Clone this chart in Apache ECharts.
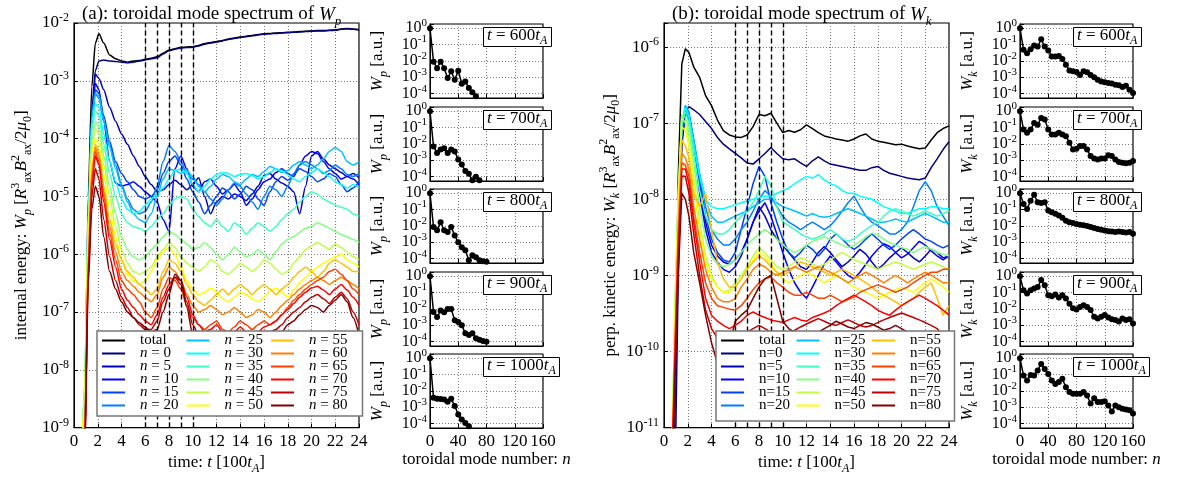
<!DOCTYPE html>
<html><head><meta charset="utf-8">
<script src="https://cdn.jsdelivr.net/npm/echarts@6/dist/echarts.min.js"></script>
<style>html,body{margin:0;padding:0;background:#fff}#c{width:1185px;height:480px}</style>
</head><body><div id="c"></div>
<script>
// ---------------- DATA ----------------
const TIME = [0.6,0.9,1.2,1.5,1.8,2.1,2.5,3,3.5,4, 4.5,5,5.5,6,6.5,7,7.5,8,8.5,9, 9.5,10,10.5,11,11.5,12,12.5,13,13.5,14, 14.5,15,15.5,16,16.5,17,17.5,18,18.5,19, 19.5,20,20.5,21,21.5,22,22.5,23,23.5,24];
const MODE_N = [0,5,10,15,20,25,30,35,40,45,50,55,60,65,70,75,80];
const SNAP_TIMES = [6,7,8,9,10];
const SNAP_LABELS = ['600','700','800','900','1000'];
const X_TICKS_MAIN = [0,24,2];
const X_TICKS_SPEC = [0,160,40];

const WP_TOTAL = [1e-10,1e-9,1e-5,8e-4,4.5e-3,6.5e-3,4.5e-3,2.8e-3,2.4e-3,2.2e-3, 2.1e-3,2.2e-3,2.25e-3,2.35e-3,2.45e-3,2.6e-3,3e-3,3.4e-3,3.6e-3,3.8e-3, 3.85e-3,3.9e-3,4.1e-3,4.4e-3,4.6e-3,4.8e-3,5e-3,5.3e-3,5.5e-3,5.7e-3, 5.9e-3,6.1e-3,6.3e-3,6.5e-3,6.6e-3,6.7e-3,6.8e-3,6.9e-3,7e-3,7.1e-3, 7.2e-3,7.3e-3,7.4e-3,7.4e-3,7.5e-3,7.6e-3,7.9e-3,8e-3,7.9e-3,7.7e-3];
const WP_N0 = [1e-10,3e-10,1e-6,3e-4,1.5e-3,2.2e-3,2.3e-3,2.2e-3,2.15e-3,2.1e-3, 2.05e-3,2.1e-3,2.2e-3,2.3e-3,2.4e-3,2.5e-3,2.9e-3,3.3e-3,3.5e-3,3.7e-3, 3.75e-3,3.8e-3,4e-3,4.3e-3,4.5e-3,4.7e-3,4.9e-3,5.2e-3,5.4e-3,5.6e-3, 5.8e-3,6e-3,6.2e-3,6.4e-3,6.5e-3,6.6e-3,6.7e-3,6.8e-3,6.9e-3,7e-3, 7.1e-3,7.2e-3,7.3e-3,7.3e-3,7.4e-3,7.5e-3,7.8e-3,7.9e-3,7.8e-3,7.6e-3];
const WP_N5 = [1e-10,2e-9,2e-6,2e-4,1.3e-3,1.1e-3,7e-4,3.5e-4,2e-4,1.2e-4, 8e-5,5e-5,3.3e-5,2.2e-5,1.6e-5,1.2e-5,1.3e-5,1.6e-5,1.9e-5,1.6e-5, 1.3e-5,1.6e-5,2.1e-5,1e-5,5e-6,8e-6,1e-5,9e-6,1.1e-5,1e-5, 8.5e-6,1.1e-5,1.5e-5,2.3e-5,2.5e-5,2e-5,1.7e-5,1.5e-5,1.2e-5,5e-6, 1.5e-5,5e-5,6e-5,4.5e-5,3.5e-5,3e-5,2.6e-5,2.2e-5,2.5e-5,2.1e-5];
const WP_N10 = [1e-10,2e-9,2e-6,2e-4,9e-4,7e-4,2e-4,4e-5,1.7e-5,1.5e-5, 1.6e-5,1.8e-5,1.5e-5,1.2e-5,1e-5,8e-6,4e-6,2.5e-6,3e-5,5e-5, 3e-5,1.5e-5,1.2e-5,1.8e-5,2e-5,1.5e-5,1.1e-5,1.3e-5,1.6e-5,1.2e-5, 7e-6,9e-6,1.3e-5,1.8e-5,2e-5,2.6e-5,3e-5,2.5e-5,2.2e-5,3.5e-5, 5e-5,6e-5,5.5e-5,4e-5,3e-5,2.5e-5,2e-5,2.2e-5,2e-5,1.6e-5];
const WP_N15 = [1e-10,2e-9,2e-6,2e-4,7e-4,6e-4,2.5e-4,9e-5,4e-5,2.5e-5, 1.8e-5,1.3e-5,1e-5,9e-6,1e-5,1.3e-5,2.5e-5,4e-5,5e-5,3.5e-5, 2e-5,1.2e-5,8e-6,5e-6,7e-6,1e-5,1.4e-5,1.2e-5,9e-6,1.1e-5, 1.5e-5,1.3e-5,9e-6,7e-6,1.2e-5,1.8e-5,2.2e-5,1.9e-5,2.4e-5,3e-5, 2.7e-5,2.2e-5,1.8e-5,2e-5,2.5e-5,2.2e-5,1.6e-5,1.2e-5,1.4e-5,1.8e-5];
const WP_N20 = [1e-10,3e-9,3e-6,2e-4,6e-4,5e-4,2e-4,8e-5,3.5e-5,1.6e-5, 9e-6,6e-6,5e-6,5.5e-6,8e-6,1.5e-5,4e-5,7.5e-5,6e-5,4e-5, 2.5e-5,2e-5,1.6e-5,1.2e-5,9e-6,7e-6,9e-6,1.3e-5,1.7e-5,1.5e-5, 1.1e-5,8e-6,6e-6,1e-5,1.5e-5,1.3e-5,1e-5,1.5e-5,2.5e-5,3.5e-5, 4e-5,3.5e-5,3e-5,2.5e-5,2.8e-5,3.5e-5,3e-5,2.4e-5,2.2e-5,2.5e-5];
const WP_N25 = [1e-10,4e-9,4e-6,2.5e-4,6e-4,5.5e-4,2e-4,7e-5,3e-5,1.5e-5, 8e-6,5e-6,4e-6,3.5e-6,5e-6,1e-5,2e-5,3e-5,2.8e-5,2.5e-5, 2.8e-5,2.2e-5,1.5e-5,1.2e-5,1.5e-5,2e-5,2.4e-5,2.2e-5,1.8e-5,1.6e-5, 2e-5,2.4e-5,2.2e-5,2.7e-5,3.3e-5,3e-5,2.6e-5,2.8e-5,3.5e-5,4e-5, 3.5e-5,3e-5,3.5e-5,4.5e-5,6e-5,7e-5,6e-5,4e-5,3.5e-5,4e-5];
const WP_N30 = [1e-10,5e-9,5e-6,2e-4,4e-4,3.5e-4,1.2e-4,4e-5,1.8e-5,9e-6, 6e-6,5e-6,5.5e-6,7e-6,9e-6,1.1e-5,1.4e-5,2e-5,2.8e-5,3e-5, 2.5e-5,1.6e-5,1.2e-5,1.5e-5,2e-5,2.4e-5,2.6e-5,2.5e-5,2.2e-5,2.4e-5, 2.5e-5,2.3e-5,2e-5,2.2e-5,2.6e-5,3e-5,2.8e-5,2.4e-5,2e-5,1.8e-5, 2.2e-5,2.6e-5,3e-5,2.6e-5,2.2e-5,1.8e-5,1.6e-5,1.4e-5,1.6e-5,1.4e-5];
const WP_N35 = [1e-10,6e-9,5e-6,1.5e-4,3e-4,2.5e-4,8e-5,2.5e-5,1e-5,5e-6, 3.5e-6,3e-6,2.8e-6,2.5e-6,3e-6,4e-6,5e-6,7e-6,9e-6,1e-5, 9e-6,6e-6,4.5e-6,3.5e-6,3e-6,4e-6,3e-6,2.5e-6,3.5e-6,3e-6, 2.2e-6,2.8e-6,3.5e-6,3e-6,2.5e-6,3e-6,4e-6,5e-6,6e-6,8e-6, 1e-5,1.2e-5,1.1e-5,9e-6,8e-6,7e-6,6.5e-6,6e-6,5e-6,4.5e-6];
const WP_N40 = [1e-10,6e-9,4e-6,1e-4,2e-4,1.6e-4,5e-5,1.5e-5,5e-6,2e-6, 1.2e-6,9e-7,8e-7,9e-7,1.2e-6,1.5e-6,2e-6,2.5e-6,2.2e-6,1.8e-6, 1.5e-6,1.2e-6,1.3e-6,1.6e-6,1.3e-6,1e-6,8e-7,1e-6,1.3e-6,1.1e-6, 9e-7,1e-6,1.2e-6,1e-6,8e-7,1.1e-6,1.5e-6,1.8e-6,2e-6,2.4e-6, 2.8e-6,3e-6,3.5e-6,3.2e-6,2.8e-6,2.5e-6,2.2e-6,2e-6,1.8e-6,1.6e-6];
const WP_N45 = [1e-10,5e-9,3e-6,8e-5,1.5e-4,1.2e-4,3.5e-5,1e-5,3e-6,1.2e-6, 7e-7,5e-7,4.5e-7,5e-7,6e-7,9e-7,1.2e-6,1.6e-6,1.3e-6,9e-7, 7e-7,6e-7,5e-7,6e-7,8e-7,7e-7,5e-7,4.5e-7,5.5e-7,7e-7, 6e-7,5e-7,6e-7,8e-7,7e-7,5.5e-7,4.5e-7,5e-7,7e-7,9e-7, 1.2e-6,1.4e-6,1.6e-6,1.4e-6,1.2e-6,1.5e-6,1.3e-6,1.1e-6,9e-7,8e-7];
const WP_N50 = [1e-10,4e-9,2e-6,6e-5,1e-4,8e-5,2.5e-5,6e-6,2e-6,8e-7, 4.5e-7,3.5e-7,3e-7,3.5e-7,5e-7,8e-7,1.1e-6,1.3e-6,1e-6,6e-7, 3.5e-7,2.5e-7,2e-7,2.2e-7,2.6e-7,2.2e-7,1.7e-7,1.5e-7,1.8e-7,2.2e-7, 2e-7,1.7e-7,1.5e-7,1.8e-7,2.3e-7,2.6e-7,2.2e-7,1.8e-7,2.4e-7,3.2e-7, 4e-7,5e-7,6e-7,7e-7,8e-7,9e-7,1e-6,8e-7,7e-7,6e-7];
const WP_N55 = [1e-10,1e-9,1e-6,3e-5,8e-5,6e-5,1.5e-5,4e-6,1.5e-6,8e-7, 5e-7,4e-7,3e-7,2.5e-7,2e-7,2.5e-7,5e-7,8e-7,7e-7,5e-7, 3e-7,2e-7,1.5e-7,1.3e-7,1.6e-7,2e-7,2.5e-7,2e-7,2.5e-7,3e-7, 2.5e-7,2e-7,2.5e-7,3e-7,2.5e-7,2e-7,2.5e-7,3e-7,4e-7,5e-7, 6e-7,5e-7,4e-7,5e-7,7e-7,8e-7,7e-7,6e-7,5e-7,5e-7];
const WP_N60 = [1e-10,8e-10,8e-7,2.5e-5,7e-5,5e-5,1.2e-5,3e-6,1.1e-6,5e-7, 3.5e-7,2.8e-7,2.2e-7,1.8e-7,1.5e-7,2e-7,4e-7,6e-7,5e-7,3.5e-7, 2e-7,1.3e-7,1e-7,1.1e-7,1.3e-7,1.1e-7,9e-8,1e-7,1.2e-7,1e-7, 8e-8,9e-8,1.1e-7,1e-7,8e-8,1e-7,1.3e-7,1.6e-7,2e-7,2.5e-7, 3e-7,3.5e-7,4e-7,3.5e-7,3e-7,3.5e-7,4e-7,3.5e-7,3e-7,2.5e-7];
const WP_N65 = [1e-10,6e-10,6e-7,2e-5,6e-5,4e-5,1e-5,2.3e-6,8e-7,3.5e-7, 2.5e-7,2e-7,1.5e-7,1e-7,8e-8,1.2e-7,2.5e-7,4e-7,3.5e-7,2.5e-7, 1.3e-7,8e-8,6e-8,5e-8,6e-8,7e-8,5e-8,4.5e-8,5.5e-8,7e-8, 6e-8,5e-8,6e-8,7e-8,6e-8,7e-8,9e-8,1.2e-7,1.6e-7,2e-7, 2.5e-7,3e-7,3.5e-7,4e-7,5e-7,5.5e-7,4.5e-7,3.5e-7,2.5e-7,2e-7];
const WP_N70 = [1e-10,5e-10,5e-7,1.5e-5,5e-5,3.5e-5,8e-6,1.8e-6,6e-7,2.5e-7, 1.6e-7,1.2e-7,9e-8,7e-8,6e-8,9e-8,1.8e-7,3e-7,4e-7,3.5e-7, 1.8e-7,9e-8,6e-8,4.5e-8,5e-8,6e-8,4.5e-8,3.5e-8,4.5e-8,5.5e-8, 4.5e-8,3.5e-8,4.5e-8,5.5e-8,6e-8,7e-8,9e-8,1.1e-7,1.4e-7,1.8e-7, 2.2e-7,2.6e-7,2.8e-7,2.4e-7,2e-7,2.5e-7,3e-7,2.4e-7,1.8e-7,1.3e-7];
const WP_N75 = [1e-10,4e-10,4e-7,1e-5,3e-5,2e-5,4e-6,9e-7,3.5e-7,1.8e-7, 1.2e-7,8e-8,6e-8,5e-8,5e-8,7e-8,1.5e-7,2.5e-7,4e-7,3e-7, 1.5e-7,6e-8,4e-8,3e-8,3.5e-8,4e-8,3e-8,2.5e-8,3e-8,4e-8, 3e-8,2.5e-8,3e-8,4e-8,4.5e-8,5e-8,6e-8,8e-8,1e-7,1.2e-7, 1.5e-7,1.8e-7,2e-7,1.7e-7,1.4e-7,1.8e-7,2.2e-7,1.7e-7,1e-7,6e-8];
const WP_N80 = [1e-10,3e-10,3e-7,6e-6,1.5e-5,1e-5,2e-6,5e-7,2.5e-7,1.5e-7, 1e-7,8e-8,6.5e-8,5.5e-8,4.5e-8,5e-8,1e-7,2e-7,4.5e-7,3.5e-7, 1.2e-7,4e-8,2e-8,1.5e-8,1.8e-8,2.2e-8,1.8e-8,1.5e-8,2e-8,2.5e-8, 2e-8,1.6e-8,2e-8,2.5e-8,3e-8,3.5e-8,4.5e-8,6e-8,7e-8,9e-8, 1.1e-7,1.3e-7,1.2e-7,1e-7,1.3e-7,1.6e-7,2e-7,1.5e-7,8e-8,4e-8];

const WK_TOTAL = [1e-12,1e-11,2e-8,6e-7,9.5e-7,8.5e-7,5.5e-7,4e-7,2.3e-7,1.7e-7, 1.1e-7,8e-8,7e-8,6.6e-8,6.5e-8,7e-8,9e-8,1.3e-7,1.25e-7,1.35e-7, 1e-7,7.5e-8,8e-8,7.6e-8,8.2e-8,9.5e-8,8.5e-8,7.5e-8,6.8e-8,6.5e-8, 6.2e-8,6e-8,5.8e-8,6.2e-8,6.8e-8,7.2e-8,6.2e-8,5.8e-8,5.6e-8,5.4e-8, 5.2e-8,5.3e-8,5e-8,4.8e-8,4.6e-8,4.7e-8,6e-8,7.5e-8,8.5e-8,9.2e-8];
const WK_N0 = [1e-12,1e-12,1e-9,5e-8,1.4e-7,1.65e-7,1.5e-7,1.3e-7,1.05e-7,8.5e-8, 6.5e-8,5.3e-8,4.6e-8,4e-8,3.5e-8,3e-8,2.9e-8,3.4e-8,4e-8,4.8e-8, 4e-8,3.4e-8,3.3e-8,3.4e-8,3e-8,2.7e-8,3.2e-8,3.6e-8,3.2e-8,2.9e-8, 2.8e-8,2.7e-8,2.6e-8,2.5e-8,2.4e-8,2.4e-8,2.6e-8,2.7e-8,2.4e-8,2.2e-8, 2.1e-8,2e-8,1.9e-8,1.85e-8,1.8e-8,1.9e-8,2.6e-8,3.4e-8,4.5e-8,5.7e-8];
const WK_N5 = [1e-12,3e-11,3e-9,6e-8,1.4e-7,1.1e-7,5e-8,1.5e-8,5e-9,2.5e-9, 1.8e-9,1.5e-9,1.4e-9,1.6e-9,2e-9,3e-9,5e-9,8e-9,6e-9,4e-9, 3e-9,2.5e-9,2e-9,1.6e-9,1.3e-9,1.2e-9,1.5e-9,2e-9,2.4e-9,2e-9, 1.6e-9,1.3e-9,1.5e-9,1.8e-9,2.2e-9,1.9e-9,1.5e-9,1.2e-9,1.4e-9,1.7e-9, 2e-9,2.3e-9,2e-9,1.7e-9,1.5e-9,1.8e-9,2.2e-9,2e-9,1.7e-9,1.8e-9];
const WK_N10 = [1e-12,3e-11,3e-9,6e-8,1.5e-7,1.2e-7,5e-8,1.2e-8,4e-9,2e-9, 1.5e-9,1.2e-9,1.1e-9,1.3e-9,1.8e-9,3e-9,5e-9,7e-9,9e-9,6e-9, 3.5e-9,2e-9,1.2e-9,8e-10,6e-10,5e-10,7e-10,1e-9,1.4e-9,1.8e-9, 1.5e-9,1.2e-9,1e-9,9e-10,1.1e-9,1.4e-9,1.8e-9,2.2e-9,2.6e-9,2.4e-9, 2e-9,1.7e-9,1.9e-9,2.3e-9,2.8e-9,2.5e-9,2.1e-9,1.8e-9,1.6e-9,1.8e-9];
const WK_N15 = [1e-12,4e-11,3e-9,7e-8,1.6e-7,1.3e-7,6e-8,1.8e-8,6e-9,3e-9, 2e-9,1.6e-9,1.5e-9,2e-9,4e-9,8e-9,1.6e-8,2.7e-8,2e-8,9e-9, 5e-9,3e-9,2e-9,1.7e-9,2e-9,2.5e-9,2.2e-9,1.8e-9,2.2e-9,3e-9, 3.5e-9,3e-9,2.5e-9,2.2e-9,2.5e-9,3e-9,3.5e-9,3e-9,2.5e-9,2.2e-9, 2.5e-9,3e-9,3.5e-9,4e-9,3.5e-9,3e-9,2.8e-9,2.5e-9,2.3e-9,2.5e-9];
const WK_N20 = [1e-12,5e-11,5e-9,8e-8,1.7e-7,1.4e-7,6e-8,2e-8,8e-9,4e-9, 3e-9,2.5e-9,2.5e-9,3e-9,4e-9,5e-9,7e-9,1e-8,1.3e-8,1.1e-8, 8e-9,6e-9,5e-9,4.5e-9,4e-9,4.5e-9,5e-9,4.5e-9,4e-9,4.5e-9, 5.5e-9,7e-9,9e-9,1.1e-8,8e-9,6e-9,5e-9,4.5e-9,4e-9,3.5e-9, 3.5e-9,4e-9,5e-9,8e-9,1.3e-8,1.7e-8,1.3e-8,8e-9,6e-9,4.5e-9];
const WK_N25 = [1e-12,5e-11,6e-9,9e-8,1.7e-7,1.3e-7,6e-8,2.2e-8,1e-8,6e-9, 5e-9,5e-9,5.5e-9,6e-9,6.5e-9,7e-9,8e-9,9e-9,1e-8,1e-8, 9e-9,8e-9,7.5e-9,7e-9,6.5e-9,6e-9,6.5e-9,6e-9,5.8e-9,6e-9, 6.5e-9,7e-9,7.5e-9,7e-9,6.5e-9,6e-9,5.5e-9,5e-9,5e-9,5.2e-9, 5.5e-9,5.2e-9,5e-9,5.5e-9,6e-9,6.5e-9,6e-9,5.5e-9,5e-9,5e-9];
const WK_N30 = [1e-12,8e-11,8e-9,1e-7,1.6e-7,1.2e-7,5e-8,2e-8,1e-8,8e-9, 7.5e-9,7.5e-9,8e-9,8.5e-9,9e-9,9.5e-9,1e-8,1.05e-8,1.1e-8,1.1e-8, 1.2e-8,1.3e-8,1.4e-8,1.6e-8,1.8e-8,2e-8,1.9e-8,2.1e-8,1.8e-8,1.6e-8, 1.5e-8,1.3e-8,1.2e-8,1.2e-8,1.1e-8,1.05e-8,1e-8,9e-9,8e-9,7.5e-9, 7e-9,6.5e-9,6.5e-9,7e-9,7.5e-9,7.5e-9,8e-9,8e-9,7.5e-9,7.5e-9];
const WK_N35 = [1e-12,2e-10,1e-8,1.2e-7,1.4e-7,1e-7,4e-8,1.3e-8,6e-9,4e-9, 3.5e-9,3.5e-9,4e-9,5e-9,6e-9,7e-9,9e-9,1.3e-8,2e-8,1.5e-8, 8e-9,5e-9,4.5e-9,4e-9,3.5e-9,3.2e-9,3e-9,3.2e-9,3.5e-9,4e-9, 3.5e-9,3e-9,2.8e-9,3e-9,3.5e-9,4e-9,4.5e-9,5e-9,6e-9,7e-9, 7.5e-9,7e-9,6.5e-9,6e-9,6.5e-9,7e-9,6.5e-9,6e-9,6.5e-9,7e-9];
const WK_N40 = [1e-12,3e-10,1.2e-8,1.3e-7,1.2e-7,8e-8,3e-8,8e-9,3e-9,1.8e-9, 1.4e-9,1.3e-9,1.4e-9,1.6e-9,2e-9,2.5e-9,3e-9,3.5e-9,4e-9,3.5e-9, 3e-9,2.5e-9,2.2e-9,2e-9,2.2e-9,2.5e-9,2.8e-9,3e-9,3.2e-9,3e-9, 2.7e-9,2.5e-9,2.3e-9,2.5e-9,2.8e-9,3.2e-9,3.6e-9,3.4e-9,3e-9,2.7e-9, 2.5e-9,2.3e-9,2.2e-9,2e-9,2.2e-9,2.4e-9,2.2e-9,2e-9,1.9e-9,1.8e-9];
const WK_N45 = [1e-12,3e-10,1.2e-8,1.2e-7,1e-7,6e-8,2e-8,5e-9,1.8e-9,1e-9, 7e-10,6e-10,6.5e-10,8e-10,1e-9,1.3e-9,1.8e-9,2.3e-9,2e-9,1.6e-9, 1.3e-9,1.2e-9,1.3e-9,1.5e-9,1.7e-9,1.6e-9,1.4e-9,1.3e-9,1.4e-9,1.6e-9, 1.8e-9,2e-9,1.8e-9,1.6e-9,1.5e-9,1.4e-9,1.3e-9,1.2e-9,1.3e-9,1.4e-9, 1.5e-9,1.4e-9,1.3e-9,1.2e-9,1.3e-9,1.4e-9,1.5e-9,1.4e-9,1.3e-9,1.2e-9];
const WK_N50 = [1e-12,2e-10,8e-9,9e-8,8e-8,5e-8,1.5e-8,4e-9,1.5e-9,9e-10, 7e-10,6e-10,6e-10,7e-10,9e-10,1.2e-9,1.6e-9,2e-9,1.8e-9,1.4e-9, 1.1e-9,9e-10,8e-10,9e-10,1e-9,1.1e-9,1e-9,9e-10,8e-10,9e-10, 1e-9,9e-10,8e-10,7e-10,6.5e-10,6e-10,5.5e-10,5e-10,5.5e-10,6e-10, 6.5e-10,7e-10,6.5e-10,6e-10,7e-10,8e-10,9e-10,8e-10,7e-10,6e-10];
const WK_N55 = [1e-12,1e-10,5e-9,6e-8,5e-8,3.5e-8,1.2e-8,8e-9,1.2e-8,4e-9, 1.5e-9,9e-10,7e-10,7e-10,9e-10,1.2e-9,1.5e-9,1.8e-9,1.6e-9,1.3e-9, 1.1e-9,1e-9,1.1e-9,1.3e-9,1.5e-9,1.4e-9,1.3e-9,1.2e-9,1.1e-9,1e-9, 1.1e-9,1.2e-9,1.1e-9,1e-9,9e-10,8e-10,7e-10,6e-10,5.5e-10,5e-10, 4.5e-10,4e-10,4.5e-10,5e-10,6e-10,7e-10,8e-10,5e-10,3e-10,4e-10];
const WK_N60 = [1e-12,1e-10,4e-9,4e-8,3.5e-8,2.5e-8,8e-9,3e-9,1.2e-9,7e-10, 5e-10,4.5e-10,4.5e-10,5e-10,7e-10,9e-10,1.2e-9,1.4e-9,1.3e-9,1.1e-9, 1e-9,1.1e-9,1.2e-9,1.3e-9,1.2e-9,1.1e-9,1.2e-9,1.3e-9,1.2e-9,1.1e-9, 1e-9,9e-10,8e-10,9e-10,1e-9,1.1e-9,1e-9,9e-10,8e-10,9e-10, 1e-9,9e-10,8e-10,9e-10,1e-9,1.1e-9,1e-9,9e-10,8e-10,8e-10];
const WK_N65 = [1e-12,8e-11,3e-9,3e-8,2.8e-8,2e-8,6e-9,2e-9,8e-10,5e-10, 4e-10,3.8e-10,3.6e-10,3.5e-10,4e-10,5e-10,6.5e-10,8e-10,9e-10,9.5e-10, 8e-10,7e-10,6e-10,5.5e-10,5.5e-10,6e-10,5.5e-10,5e-10,5e-10,5.5e-10, 5e-10,4.5e-10,4.8e-10,5.2e-10,6e-10,6.5e-10,7e-10,7.5e-10,7e-10,6.5e-10, 6e-10,6.5e-10,7e-10,8e-10,9e-10,1e-9,1.1e-9,1.1e-9,1.2e-9,1.2e-9];
const WK_N70 = [1e-12,6e-11,2e-9,2.5e-8,2.5e-8,1.6e-8,5e-9,1.5e-9,5e-10,3e-10, 2.5e-10,2.2e-10,2e-10,2.2e-10,2.5e-10,3e-10,3.3e-10,3e-10,2.8e-10,2.6e-10, 2.5e-10,2.4e-10,2.6e-10,2.8e-10,2.6e-10,2.5e-10,2.8e-10,3e-10,3.2e-10,3.5e-10, 4e-10,4.5e-10,5e-10,5.5e-10,5e-10,4.5e-10,4e-10,3.5e-10,3.2e-10,3e-10, 3.5e-10,4e-10,4.5e-10,5e-10,5.5e-10,5e-10,4.5e-10,4e-10,3.5e-10,3e-10];
const WK_N75 = [1e-12,4e-11,1.5e-9,2e-8,2e-8,1.2e-8,3.5e-9,1e-9,3.5e-10,2e-10, 1.5e-10,1.3e-10,1.2e-10,1.3e-10,1.5e-10,1.8e-10,2e-10,2.2e-10,2e-10,1.8e-10, 1.7e-10,1.6e-10,1.7e-10,1.9e-10,2.1e-10,2.3e-10,2.5e-10,2.7e-10,2.5e-10,2.3e-10, 2.2e-10,2.4e-10,2.6e-10,2.4e-10,2.2e-10,2.1e-10,2.2e-10,2.4e-10,2.6e-10,2.8e-10, 3e-10,3.2e-10,3e-10,2.8e-10,2.6e-10,2.4e-10,2.2e-10,2e-10,1.6e-10,1.2e-10];
const WK_N80 = [1e-12,3e-11,1e-9,1.2e-8,1e-8,6e-9,2e-9,8e-10,3e-10,1.3e-10, 7e-11,6e-11,1.2e-10,2.5e-10,3e-10,3.5e-10,5e-10,7e-10,9e-10,1e-9, 5e-10,2.5e-10,2e-10,1.8e-10,1.6e-10,1.5e-10,1.6e-10,1.8e-10,2e-10,2.2e-10, 2.5e-10,2.3e-10,2.1e-10,2e-10,2.2e-10,2.4e-10,2.3e-10,2.1e-10,1.9e-10,2e-10, 2.2e-10,2e-10,1.8e-10,1.7e-10,1.6e-10,1.5e-10,1.4e-10,1.2e-10,9e-11,7e-11];

const SPEC_N_WP = [0,5,10,15,20,25,30,35,40,45,50,55,60,65,70,75,80];
const WP_SPEC_600  = [1,9e-3,3.6e-3,9e-3,3.6e-3,9e-4,2.3e-3,7e-4,2.5e-3,4e-4,5.6e-4,2.2e-4,1.2e-4,7e-5,4e-5,2e-5,1e-5];
const WP_SPEC_700  = [1,7e-3,2.8e-3,4.5e-3,5.5e-3,2.8e-3,4.5e-3,3.5e-3,1.1e-3,5.6e-4,2.2e-4,1.5e-4,6e-5,1e-4,6e-5,3e-5,2e-5];
const WP_SPEC_800  = [1,8.5e-3,5.4e-3,1.7e-2,5.4e-3,4.3e-3,8.5e-3,2.6e-3,1e-3,5e-4,3.2e-4,8e-5,1.6e-4,1.2e-4,8e-5,7e-5,6.5e-5];
const WP_SPEC_900  = [1,6.6e-3,3.2e-3,8e-3,6.3e-3,1e-2,1e-2,2e-3,1.6e-3,1e-3,3.2e-4,2.5e-4,3.2e-4,1.6e-4,1.3e-4,1.1e-4,1e-4];
const WP_SPEC_1000 = [1,3.8e-3,3.3e-3,3.2e-3,3e-3,2.2e-3,3.3e-3,1.2e-3,3.6e-4,1.8e-4,1.1e-4,7e-5,4.5e-5,3e-5,2e-5,1.5e-5,1e-5];

const SPEC_N_WK = [0,5,10,15,20,25,30,35,40,45,50,55,60,65,70,75,80,85,90,95,100,105,110,115,120,125,130,135,140,145,150,155,160];
const WK_SPEC_600  = [1,4.8e-2,3e-2,5.2e-2,8.7e-2,7.6e-2,2.1e-1,7.6e-2,4.4e-2,1.9e-2,1.9e-2,2e-2,1.3e-2,5.8e-3,2.6e-3,2.3e-3,2.1e-3,1.4e-3,2.3e-3,2e-3,1.4e-3,1e-3,7e-4,5.6e-4,4.9e-4,4.5e-4,4.1e-4,3.5e-4,3.3e-4,2.5e-4,3e-4,1.7e-4,1.1e-4];
const WK_SPEC_700  = [1,7.6e-2,4.8e-2,7.6e-2,1.9e-1,1.5e-1,3.9e-1,3.1e-1,7.6e-2,3.8e-2,3.8e-2,4.8e-2,3.8e-2,3e-2,1.2e-2,4.6e-3,5e-3,7.4e-3,7.4e-3,4.6e-3,1.8e-3,1.3e-3,1.1e-3,1.3e-3,1.3e-3,2e-3,1.8e-3,1.1e-3,7.8e-4,7e-4,6.5e-4,7e-4,9e-4];
const WK_SPEC_800  = [1,2.2e-1,1.1e-1,3.5e-1,8e-1,2.8e-1,2.5e-1,2.8e-1,8.7e-2,6.9e-2,5.5e-2,4.4e-2,3.2e-2,2.1e-2,1.7e-2,1.5e-2,1.3e-2,1.2e-2,1.1e-2,1e-2,8.5e-3,7.5e-3,6.5e-3,5.8e-3,5.2e-3,4.8e-3,4.6e-3,4.2e-3,4.5e-3,4.2e-3,4e-3,4.2e-3,3.3e-3];
const WK_SPEC_900  = [1,1.4e-1,8.7e-2,1.4e-1,1.8e-1,2.2e-1,5.8e-1,2.8e-1,6.9e-2,6e-2,7.6e-2,5e-2,6.9e-2,4.4e-2,2.1e-2,1.1e-2,9.3e-3,1.3e-2,1.7e-2,1.3e-2,8.5e-3,3.3e-3,2.6e-3,3.3e-3,4.2e-3,3e-3,2.3e-3,2.1e-3,1.7e-3,2.6e-3,2.1e-3,2.3e-3,1.3e-3];
const WK_SPEC_1000 = [1,8.7e-2,4.4e-2,9.5e-2,8.7e-2,1.8e-1,4.5e-1,2.2e-1,1.1e-1,4.4e-2,2.7e-2,3.5e-2,5.5e-2,1.7e-2,8.5e-3,6.8e-3,6.8e-3,6.8e-3,8.5e-3,5.2e-3,1.7e-3,3.6e-3,2.1e-3,2.1e-3,2.3e-3,1.3e-3,5.6e-4,1.3e-3,1e-3,8.1e-4,7.4e-4,6.5e-4,4.1e-4];

// ---------------- STYLE / BUILD ----------------
const WP_MODES = [WP_N0,WP_N5,WP_N10,WP_N15,WP_N20,WP_N25,WP_N30,WP_N35,WP_N40,WP_N45,WP_N50,WP_N55,WP_N60,WP_N65,WP_N70,WP_N75,WP_N80];
const WK_MODES = [WK_N0,WK_N5,WK_N10,WK_N15,WK_N20,WK_N25,WK_N30,WK_N35,WK_N40,WK_N45,WK_N50,WK_N55,WK_N60,WK_N65,WK_N70,WK_N75,WK_N80];
const WP_SPECS = [WP_SPEC_600,WP_SPEC_700,WP_SPEC_800,WP_SPEC_900,WP_SPEC_1000];
const WK_SPECS = [WK_SPEC_600,WK_SPEC_700,WK_SPEC_800,WK_SPEC_900,WK_SPEC_1000];
const JET = ['#000080','#0000c0','#0000ff','#0040ff','#0080ff','#00c0ff','#00ffff','#40ffc0','#80ff80','#c0ff40','#ffff00','#ffc000','#ff8000','#ff4000','#ff0000','#c00000','#800000'];
const FONT = '"Liberation Serif", "DejaVu Serif", serif';
const MODE_NAMES = MODE_N.map(n => 'n=' + n);

const TXT = (size, extra) => Object.assign({fontFamily: FONT, fontSize: size, color: '#000', fontWeight: 'normal'}, extra || {});
function richSet(size, lhOverride) {
  const lh = lhOverride || Math.round(size * 1.4);
  return {
    r: TXT(size, {lineHeight: lh, verticalAlign: 'middle'}),
    i: TXT(size, {lineHeight: lh, verticalAlign: 'middle', fontStyle: 'italic'}),
    sb: TXT(Math.round(size * 0.7), {verticalAlign: 'bottom', fontStyle: 'italic'}),
    sbr: TXT(Math.round(size * 0.7), {verticalAlign: 'bottom'}),
    sp: TXT(Math.round(size * 0.7), {verticalAlign: 'top'})
  };
}
const TICK_RICH = (size) => ({
  b: TXT(size, {lineHeight: size + 5, verticalAlign: 'middle'}),
  s: TXT(Math.round(size * 0.68), {verticalAlign: 'top'})
});
function logLabel(v) {
  const l = Math.log10(v), e = Math.round(l);
  if (Math.abs(l - e) > 1e-6) return '';
  return '{b|10}{s|' + e + '}';
}
const DOT = {show: true, lineStyle: {color: '#777', type: [1, 2], width: 1}};
const TICK = {show: true, inside: true, length: 4, lineStyle: {color: '#000', width: 1}};
const AXLINE = {show: true, onZero: false, lineStyle: {color: '#000', width: 1}};

const MAIN_GRIDS = [{left: 74, top: 23}, {left: 664, top: 23}];
const SPEC_TOPS = [24, 107, 189, 272, 354];
const SPEC_LEFTS = [430, 1020];

const grids = [], xAxes = [], yAxes = [], series = [], titles = [], legends = [];
const unitName = '{r| [}{i|R}{sp|3}{sbr|ax}{i|B}{sp|2}{sbr|ax}{r|/2}{i|μ}{sbr|0}{r|]}';
const mainDefs = [
  {modes: WP_MODES, total: WP_TOTAL, ymin: 1e-9, ymax: 1e-2, smooth: 0.25,
   yname: '{r|internal energy: }{i|W}{sb|p}' + unitName,
   title: '{r|(a): toroidal mode spectrum of }{i|W}{sb|p}', titleLeft: 82, legLeft: 97, legPitch: 84.5, italic: true, padB: 3},
  {modes: WK_MODES, total: WK_TOTAL, ymin: 1e-11, ymax: 2.07e-6, smooth: false,
   yname: '{r|perp. kinetic energy: }{i|W}{sb|k}' + unitName,
   title: '{r|(b): toroidal mode spectrum of }{i|W}{sb|k}', titleLeft: 672, legLeft: 716, legPitch: 75.5, italic: false, padB: 8}
];

mainDefs.forEach((d, gi) => {
  grids.push({left: MAIN_GRIDS[gi].left, top: MAIN_GRIDS[gi].top, width: 285, height: 405, show: true, borderColor: '#000', borderWidth: 1.2, containLabel: false});
  xAxes.push({gridIndex: gi, type: 'value', min: X_TICKS_MAIN[0], max: X_TICKS_MAIN[1], interval: X_TICKS_MAIN[2],
    axisLine: AXLINE, axisTick: TICK, splitLine: DOT,
    axisLabel: {fontFamily: FONT, fontSize: 17, color: '#000', margin: 5},
    name: '{r|time: }{i|t}{r| [100}{i|t}{sb|A}{r|]}', nameLocation: 'middle', nameGap: 20,
    nameTextStyle: {rich: richSet(17)}});
  yAxes.push({gridIndex: gi, type: 'log', min: d.ymin, max: d.ymax,
    axisLine: AXLINE, axisTick: TICK, splitLine: DOT,
    axisLabel: {formatter: logLabel, rich: TICK_RICH(17), margin: 5},
    name: d.yname, nameLocation: 'middle', nameGap: 40, nameTextStyle: {rich: richSet(17)}});
  const mk = (arr) => TIME.map((t, k) => [t, arr[k]]);
  series.push({type: 'line', name: 'total', xAxisIndex: gi, yAxisIndex: gi, data: mk(d.total), symbol: 'none',
    smooth: d.smooth, smoothMonotone: 'x', lineStyle: {color: '#000', width: 1.5}, itemStyle: {color: '#000'}, clip: true, z: 2});
  d.modes.forEach((arr, mi) => {
    const s = {type: 'line', name: MODE_NAMES[mi], xAxisIndex: gi, yAxisIndex: gi, data: mk(arr), symbol: 'none',
      smooth: d.smooth, smoothMonotone: 'x', lineStyle: {color: JET[mi], width: 1.5}, itemStyle: {color: JET[mi]}, clip: true, z: 2};
    if (mi === d.modes.length - 1) {
      s.markLine = {silent: true, z: 3, symbol: ['none', 'none'], label: {show: false}, animation: false,
        lineStyle: {color: '#000', type: [5, 3], width: 1.4}, data: SNAP_TIMES.map(t => ({xAxis: t}))};
    }
    series.push(s);
  });
  titles.push({text: d.title, left: d.titleLeft, top: 1, padding: 0,
    textStyle: {fontWeight: 'normal', fontFamily: FONT, fontSize: 19, rich: richSet(19)}});
  const legRich = {
    t: TXT(15, {lineHeight: 14}),
    it: TXT(15, {lineHeight: 14, fontStyle: 'italic'})
  };
  legends.push({
    z: 10,
    data: ['total'].concat(MODE_NAMES), orient: 'vertical', left: d.legLeft, top: 331, height: 90,
    itemGap: -2, itemWidth: 23, itemHeight: 2, icon: 'rect',
    padding: [2, 5, d.padB, 5],
    backgroundColor: '#fff', borderColor: '#777', borderWidth: 1.5, borderRadius: 0,
    selectedMode: false,
    formatter: d.italic
      ? (name => name === 'total' ? '{t|total}' : '{it|n}{t| = ' + name.slice(2) + '}')
      : (name => '{t|' + name + '}'),
    textStyle: {width: d.legPitch - 28 - 10 + 2, padding: [0, 0, 0, 10], rich: legRich,
      fontFamily: FONT, fontSize: 15, color: '#000', lineHeight: 14, fontWeight: 'normal'}
  });
});

// small spectrum panels
[WP_SPECS, WK_SPECS].forEach((specs, side) => {
  const nArr = side === 0 ? SPEC_N_WP : SPEC_N_WK;
  specs.forEach((spec, pi) => {
    const gi = grids.length;
    const last = pi === specs.length - 1;
    grids.push({left: SPEC_LEFTS[side], top: SPEC_TOPS[pi], width: 113, height: 74, show: true, borderColor: '#000', borderWidth: 1.2});
    xAxes.push({gridIndex: gi, type: 'value', min: X_TICKS_SPEC[0], max: X_TICKS_SPEC[1], interval: X_TICKS_SPEC[2],
      axisLine: AXLINE, axisTick: TICK, splitLine: DOT,
      axisLabel: {show: last, fontFamily: FONT, fontSize: 17, color: '#000', margin: 5},
      name: last ? '{r|toroidal mode number: }{i|n}' : '', nameLocation: 'middle', nameGap: 20,
      nameTextStyle: {rich: richSet(17)}});
    yAxes.push({gridIndex: gi, type: 'log', min: 5.4e-5, max: 1.82,
      axisLine: AXLINE, axisTick: TICK, splitLine: DOT,
      axisLabel: {formatter: logLabel, rich: TICK_RICH(16), margin: 3},
      name: '{i|W}{sb|' + (side === 0 ? 'p' : 'k') + '}{r| [a.u.]}', nameLocation: 'middle', nameGap: 40,
      nameTextStyle: {rich: richSet(17)}});
    series.push({type: 'line', name: 'spec' + side + pi, xAxisIndex: gi, yAxisIndex: gi,
      data: nArr.map((n, j) => [n, spec[j]]), symbol: 'circle', symbolSize: 6, showAllSymbol: true,
      lineStyle: {color: '#000', width: 1.5}, itemStyle: {color: '#000'}, clip: true});
    titles.push({text: '{i|t}{r| = ' + SNAP_LABELS[pi] + '}{i|t}{sb|A}', left: (side === 0 ? 483 : 1073), top: SPEC_TOPS[pi] + 1,
      padding: [0, 4, 0, 4], borderColor: '#000', borderWidth: 1, backgroundColor: '#fff',
      textStyle: {fontWeight: 'normal', fontFamily: FONT, fontSize: 17, rich: richSet(17, 22)}});
  });
});

const chart = echarts.init(document.getElementById('c'), null, {renderer: 'canvas'});
chart.setOption({
  animation: false, backgroundColor: '#fff',
  title: titles, legend: legends, grid: grids, xAxis: xAxes, yAxis: yAxes, series: series
});
</script></body></html>
